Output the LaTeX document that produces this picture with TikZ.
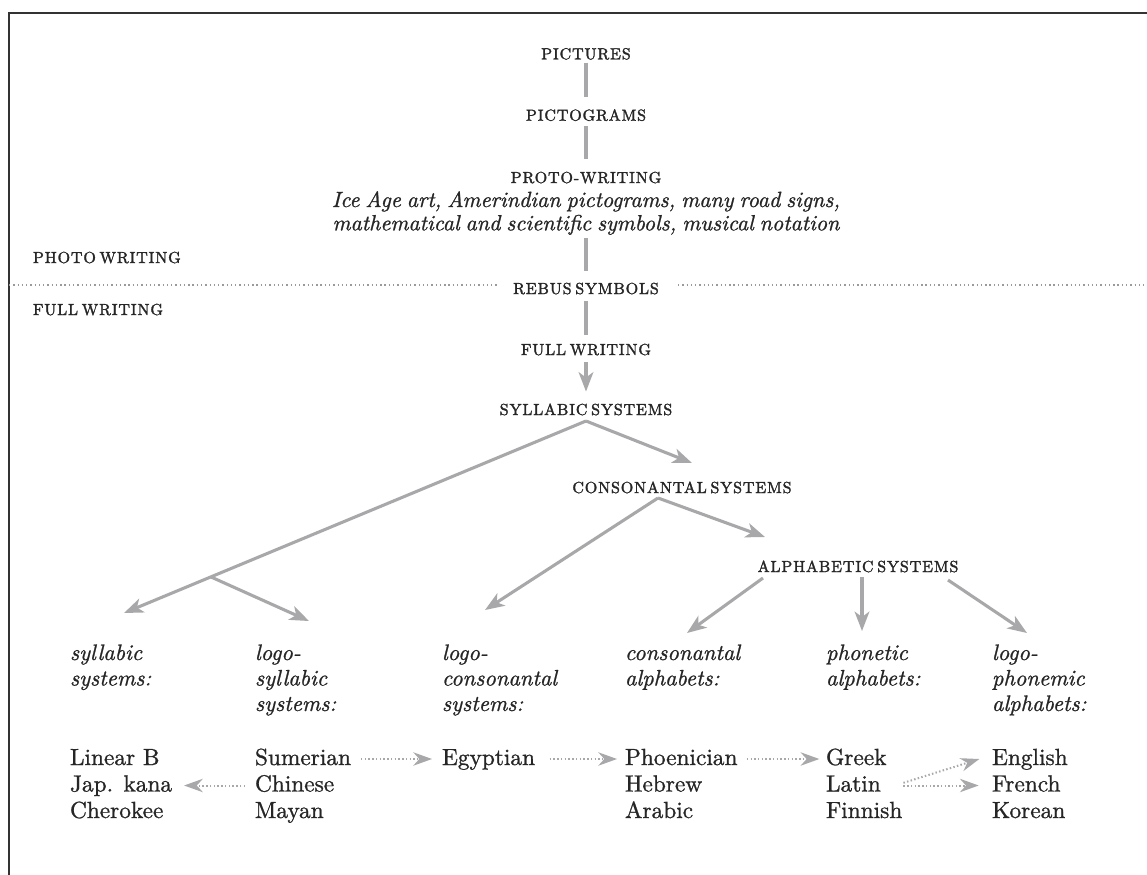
\documentclass[tikz,border=0pt]{standalone}
\usepackage{fontspec}
\setmainfont{lmroman10-regular.otf}[ItalicFont=lmroman10-italic.otf, BoldFont=lmroman10-bold.otf]
\newfontfamily\hdfam{lmroman10-regular.otf}[LetterSpace=5.5, WordSpace=0.6, FakeBold=1.8]
\newfontfamily\bodyfam{lmroman10-regular.otf}[FakeBold=1.0]
\newfontfamily\itfam{lmroman10-italic.otf}[FakeBold=1.0]
\newfontfamily\descfam{lmroman10-italic.otf}[WordSpace=0.75, FakeBold=1.0]
\usetikzlibrary{arrows.meta,calc}
\definecolor{txt}{HTML}{262626}
\definecolor{lnc}{HTML}{A8A8AA}
\definecolor{frm}{HTML}{333333}
\definecolor{dotc}{HTML}{9A9A9A}
\newcommand\hdfont{\hdfam\fontsize{12}{14}\selectfont}
\newcommand\labfont{\itfam\fontsize{16.8}{19.1}\selectfont}
\newcommand\namefont{\bodyfam\fontsize{17.5}{19.9}\selectfont}
\newcommand\descfont{\descfam\fontsize{16.5}{17.5}\selectfont}
\begin{document}
\begin{tikzpicture}[x=0.75pt,y=-0.75pt,
  every node/.style={inner sep=0pt, outer sep=0pt, text=txt},
  hd/.style={font=\hdfont, anchor=base},
  hdl/.style={font=\hdfont, anchor=base west},
  lab/.style={font=\labfont, anchor=base west},
  nmstyle/.style={font=\namefont, anchor=base west, text height=9pt, text depth=0pt},
  ln/.style={draw=lnc, line width=2.3pt},
  arr/.style={draw=lnc, line width=2.3pt, -{Stealth[length=14.5pt,width=11pt,inset=4pt]}},
  darr/.style={draw=lnc, line width=1.5pt, dash pattern=on 1.1pt off 1.7pt, -{Stealth[length=14pt,width=10pt,inset=4.5pt,sep=0pt]}},
  sepline/.style={draw=dotc, line width=1.2pt, dash pattern=on 1pt off 2.2pt}
]
\fill[white] (0,0) rectangle (1147,875);
\useasboundingbox (0,0) rectangle (1147,875);
\draw[frm, line width=1.9pt] (1150,13) -- (9,13) -- (9,880);

% headings
\node[hd] (pic) at (586,59.3) {PICTURES};
\node[hd] (pgr) at (586,120.7) {PICTOGRAMS};
\node[hd] (pro) at (586,183) {PROTO-WRITING};
\node[font=\descfont, anchor=base] (desc) at (586,207) {\begin{tabular}[t]{@{}c@{}}Ice Age art, Amerindian pictograms, many road signs,\\ mathematical and scientific symbols, musical notation\end{tabular}};
\node[hd] (reb) at (586,294) {REBUS SYMBOLS};
\node[hd] (fw) at (586,355) {FULL WRITING};
\node[hd] (syl) at (586,415) {SYLLABIC SYSTEMS};
\node[hd] (con) at (682,493) {CONSONANTAL SYSTEMS};
\node[hd] (alp) at (858,572) {ALPHABETIC SYSTEMS};
\node[hdl] (photo) at (33,263) {PHOTO WRITING};
\node[hdl] (fullw) at (33,315) {FULL WRITING};

% separator
\draw[sepline] (9,285) -- (497,285) (678,285) -- (1147,285);

% vertical connectors
\draw[ln, shorten <=2.25pt, shorten >=9.3pt] (pic) -- (pgr);
\draw[ln, shorten <=4pt, shorten >=9.2pt] (pgr) -- (pro);
\draw[ln, shorten <=0.5pt, shorten >=8.5pt] (desc) -- (reb);
\draw[ln, shorten <=4.8pt, shorten >=6.8pt] (reb) -- (fw);
\draw[arr, shorten <=5pt, shorten >=9pt] (fw) -- (syl);

% tree arrows
\coordinate (ap1) at (586,421);
\coordinate (t1) at (692,463);
\coordinate (t2) at (124,613);
\coordinate (br) at ($(ap1)!0.812!(t2)$);
\coordinate (t3) at (309,621);
\coordinate (ap2) at (658,498);
\coordinate (t4) at (485,610);
\coordinate (t5) at (765,537);
\coordinate (a1) at (763,578);
\coordinate (a1t) at (687,633);
\coordinate (a2) at (862,577);
\coordinate (a2t) at (862,631);
\coordinate (a3) at (948,580);
\coordinate (a3t) at (1027,633);
\draw[arr] (ap1) -- (t1);
\draw[arr] (ap1) -- (t2);
\draw[arr] (br) -- (t3);
\draw[arr] (ap2) -- (t4);
\draw[arr] (ap2) -- (t5);
\draw[arr] (a1) -- (a1t);
\draw[arr] (a2) -- (a2t);
\draw[arr] (a3) -- (a3t);

% category labels
\node[lab] (l1) at (70,660) {\begin{tabular}[t]{@{}l@{}}syllabic\\systems:\end{tabular}};
\node[lab] (l2) at (255,660) {\begin{tabular}[t]{@{}l@{}}logo-\\syllabic\\systems:\end{tabular}};
\node[lab] (l3) at (442,660) {\begin{tabular}[t]{@{}l@{}}logo-\\consonantal\\systems:\end{tabular}};
\node[lab] (l4) at (625,660) {\begin{tabular}[t]{@{}l@{}}consonantal\\alphabets:\end{tabular}};
\node[lab] (l5) at (826,660) {\begin{tabular}[t]{@{}l@{}}phonetic\\alphabets:\end{tabular}};
\node[lab] (l6) at (992,660) {\begin{tabular}[t]{@{}l@{}}logo-\\phonemic\\alphabets:\end{tabular}};

% names
\node[nmstyle] (linb) at (70,765) {Linear B};
\node[nmstyle] (jap) at (70,791.5) {Jap. kana};
\node[nmstyle] (che) at (70,818) {Cherokee};
\node[nmstyle] (sum) at (255,765) {Sumerian};
\node[nmstyle] (chi) at (255,791.5) {Chinese};
\node[nmstyle] (may) at (255,818) {Mayan};
\node[nmstyle] (egy) at (442,765) {Egyptian};
\node[nmstyle] (pho) at (625,765) {Phoenician};
\node[nmstyle] (heb) at (625,791.5) {Hebrew};
\node[nmstyle] (ara) at (625,818) {Arabic};
\node[nmstyle] (gre) at (826,765) {Greek};
\node[nmstyle] (lat) at (826,791.5) {Latin};
\node[nmstyle] (fin) at (826,818) {Finnish};
\node[nmstyle] (eng) at (992,765) {English};
\node[nmstyle] (fre) at (992,791.5) {French};
\node[nmstyle] (kor) at (992,818) {Korean};

% dotted arrows
\draw[darr, shorten <=7.5pt, shorten >=7.5pt] (sum) -- (egy);
\draw[darr, shorten <=7.5pt, shorten >=9pt] (chi) -- (jap);
\draw[darr, shorten <=11pt, shorten >=6pt] (egy) -- (pho);
\draw[darr, shorten <=7pt, shorten >=5pt] (pho) -- (gre);
\draw[darr] ([xshift=17pt,yshift=2pt]lat.east) -- ([xshift=-9.5pt]eng.west);
\draw[darr] ([xshift=17pt]lat.east) -- ([xshift=-10pt]fre.west);
\end{tikzpicture}
\end{document}
